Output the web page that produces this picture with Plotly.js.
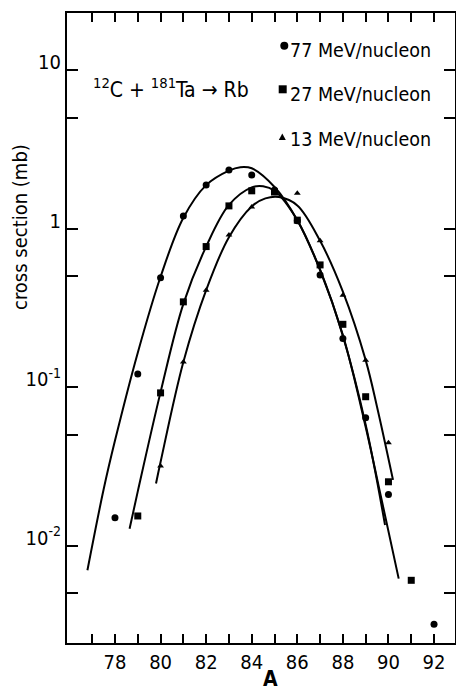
<!DOCTYPE html>
<html>
<head>
<meta charset="utf-8">
<script src="https://cdn.plot.ly/plotly-3.0.1.min.js"></script>
<style>
  html, body { margin: 0; padding: 0; background: #fff; }
  #chart { width: 456px; height: 690px; }
</style>
</head>
<body>
<div id="chart"></div>
<script>
// ---- measured points ----
const massA77 = [78, 79, 80, 81, 82, 83, 84, 85, 86, 87, 88, 89, 90, 92];
const sigma77 = [0.015, 0.121, 0.49, 1.2, 1.88, 2.34, 2.18, 1.75, 1.12, 0.51, 0.203, 0.064, 0.021, 0.0032];

const massA27 = [79, 80, 81, 82, 83, 84, 85, 86, 87, 88, 89, 90, 91];
const sigma27 = [0.0154, 0.092, 0.345, 0.77, 1.39, 1.73, 1.70, 1.13, 0.59, 0.249, 0.087, 0.0253, 0.00605];

const massA13 = [80, 81, 82, 83, 84, 86, 87, 88, 89, 90];
const sigma13 = [0.0318, 0.144, 0.409, 0.91, 1.37, 1.67, 0.837, 0.38, 0.148, 0.0446];

// ---- fitted curves ----
const curveA77 = [76.79, 77.5, 78, 79, 80, 81, 82, 83, 83.5, 84, 85, 86, 87, 88, 89, 89.7, 90.45];
const curveS77 = [0.0070, 0.0226, 0.046, 0.165, 0.497, 1.17, 1.88, 2.32, 2.44, 2.40, 1.83, 1.13, 0.547, 0.213, 0.056, 0.0195, 0.0062];

const curveA27 = [78.64, 79, 80, 81, 82, 83, 84, 84.5, 85, 86, 87, 88, 89, 89.85];
const curveS27 = [0.0128, 0.022, 0.093, 0.335, 0.77, 1.41, 1.82, 1.85, 1.73, 1.13, 0.55, 0.21, 0.058, 0.0135];

const curveA13 = [79.8, 80, 81, 82, 83, 84, 84.6, 85.2, 86, 87, 88, 89, 89.5, 90.2];
const curveS13 = [0.0247, 0.0337, 0.144, 0.409, 0.883, 1.38, 1.55, 1.58, 1.40, 0.837, 0.40, 0.148, 0.075, 0.026];

// ---- axis ticks ----
const xTickVals = [78, 80, 82, 84, 86, 88, 90, 92];
const xTickText = ['78', '80', '82', '84', '86', '88', '90', '92'];
const xMinorVals = [77, 79, 81, 83, 85, 87, 89, 91];
const yTickVals = [0.01, 0.1, 1, 10];
const yTickText = ['10<sup>-2</sup>', '10<sup>-1</sup>', '1', '10'];
const yMinorVals = [0.005, 0.05, 0.5, 5];

const seriesLabels = ['77 MeV/nucleon', '27 MeV/nucleon', '13 MeV/nucleon'];
const reactionText = '<sup>12</sup>C + <sup>181</sup>Ta \u2192 Rb';

const FONT = '"DejaVu Sans Condensed", "DejaVu Sans", sans-serif';

// plot-area geometry (pixels in the 456x690 page)
const L = 67, R = 455, T = 13, B = 643;
const px = x => (x - L) / (R - L);
const py = y => (B - y) / (B - T);

const lineStyle = { color: '#000', width: 2, shape: 'spline', smoothing: 1 };

const traces = [
  { x: curveA77, y: curveS77, mode: 'lines', line: lineStyle, hoverinfo: 'skip', showlegend: false },
  { x: curveA27, y: curveS27, mode: 'lines', line: lineStyle, hoverinfo: 'skip', showlegend: false },
  { x: curveA13, y: curveS13, mode: 'lines', line: lineStyle, hoverinfo: 'skip', showlegend: false },
  { x: massA77, y: sigma77, mode: 'markers', name: seriesLabels[0],
    marker: { symbol: 'circle', size: 7, color: '#000' }, showlegend: false },
  { x: massA27, y: sigma27, mode: 'markers', name: seriesLabels[1],
    marker: { symbol: 'square', size: 7, color: '#000' }, showlegend: false },
  { x: massA13, y: sigma13, mode: 'markers', name: seriesLabels[2],
    marker: { symbol: 'triangle-up', size: 6, color: '#000' }, showlegend: false }
];

const axisCommon = {
  showline: true, linecolor: '#000', linewidth: 2,
  mirror: 'ticks', ticks: 'inside', tickcolor: '#000', tickwidth: 2,
  showgrid: false, zeroline: false,
  tickfont: { family: FONT, size: 20, color: '#000' }
};

const legendY = [50, 95, 140];
const keyY = [45.7, 89.3, 137];
const keyX = [284.3, 282.7, 282.3];

const shapes = [
  { type: 'circle', xref: 'paper', yref: 'paper', xsizemode: 'pixel', ysizemode: 'pixel',
    xanchor: px(keyX[0]), yanchor: py(keyY[0]), x0: -4, x1: 4, y0: -4, y1: 4,
    fillcolor: '#000', line: { width: 0 } },
  { type: 'rect', xref: 'paper', yref: 'paper', xsizemode: 'pixel', ysizemode: 'pixel',
    xanchor: px(keyX[1]), yanchor: py(keyY[1]), x0: -4, x1: 4, y0: -4, y1: 4,
    fillcolor: '#000', line: { width: 0 } },
  { type: 'path', xref: 'paper', yref: 'paper', xsizemode: 'pixel', ysizemode: 'pixel',
    xanchor: px(keyX[2]), yanchor: py(keyY[2]), path: 'M -3.5 -3 L 3.5 -3 L 0 3.5 Z',
    fillcolor: '#000', line: { width: 0 } }
];

const annotations = [
  { xref: 'paper', yref: 'paper', x: px(171), y: py(88), text: reactionText, showarrow: false,
    xanchor: 'center', yanchor: 'middle', font: { family: FONT, size: 21, color: '#000' } },
  { xref: 'paper', yref: 'paper', x: px(20), y: py(227), text: 'cross section (mb)', showarrow: false,
    textangle: -90, xanchor: 'center', yanchor: 'middle', font: { family: FONT, size: 20, color: '#000' } },
  { xref: 'paper', yref: 'paper', x: px(270), y: py(679), text: '<b>A</b>', showarrow: false,
    xanchor: 'center', yanchor: 'middle', font: { family: FONT, size: 21, color: '#000' } }
];
seriesLabels.forEach((t, i) => {
  annotations.push({ xref: 'paper', yref: 'paper', x: px(433), y: py(legendY[i]), text: t,
    showarrow: false, xanchor: 'right', yanchor: 'middle',
    font: { family: FONT, size: 19.5, color: '#000' } });
});

const layout = {
  width: 456, height: 690,
  margin: { l: L, r: 456 - R, t: T, b: 690 - B, pad: 0 },
  paper_bgcolor: '#fff', plot_bgcolor: '#fff',
  showlegend: false,
  font: { family: FONT, color: '#000' },
  xaxis: Object.assign({}, axisCommon, {
    range: [75.894, 92.92], tickmode: 'array', tickvals: xTickVals, ticktext: xTickText,
    ticklen: 9,
    minor: { tickmode: 'array', tickvals: xMinorVals, ticks: 'inside', ticklen: 9, tickwidth: 2, tickcolor: '#000', showgrid: false }
  }),
  yaxis: Object.assign({}, axisCommon, {
    type: 'log', range: [-2.6136, 1.3595], tickmode: 'array', tickvals: yTickVals, ticktext: yTickText,
    ticklen: 11, ticklabelshift: -8,
    minor: { tickmode: 'array', tickvals: yMinorVals, ticks: 'inside', ticklen: 11, tickwidth: 2, tickcolor: '#000', showgrid: false }
  }),
  shapes: shapes,
  annotations: annotations
};

Plotly.newPlot('chart', traces, layout, { staticPlot: true, displayModeBar: false });
</script>
</body>
</html>
